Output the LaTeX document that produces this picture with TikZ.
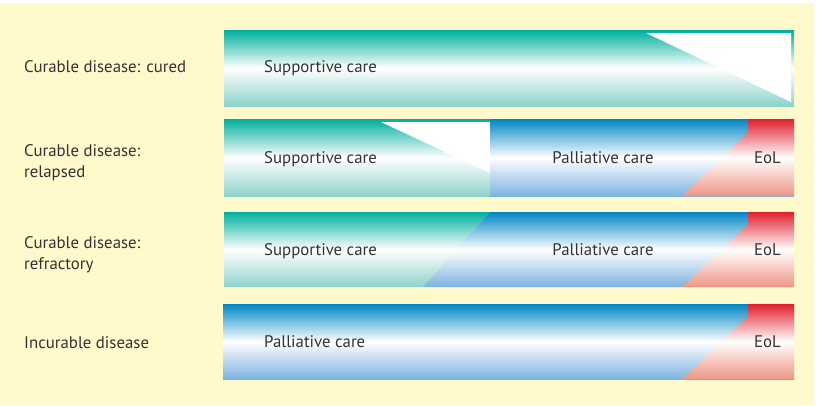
\documentclass[tikz,border=0pt]{standalone}
\usepackage{fontspec}
\setmainfont{PT Sans}
\definecolor{bg}{HTML}{FFF9CC}
\definecolor{tealT}{HTML}{00B09E}
\definecolor{tealB}{HTML}{8DD3CB}
\definecolor{blueT}{HTML}{0085C6}
\definecolor{blueB}{HTML}{7DB3DF}
\definecolor{redT}{HTML}{E0202E}
\definecolor{redB}{HTML}{EE9585}
\definecolor{txt}{HTML}{333333}
\begin{document}
\begin{tikzpicture}[x=1pt,y=-1pt,
  tealsh/.style={top color=tealT, bottom color=tealB, middle color=white},
  bluesh/.style={top color=blueT, bottom color=blueB, middle color=white},
  redsh/.style={top color=redT, bottom color=redB, middle color=white},
  lab/.style={inner sep=0pt, text=txt, font=\fontsize{16.8}{21}\selectfont, align=left}]
\useasboundingbox (0,0) rectangle (817,405);
\fill[bg] (0,3) rectangle (814,405);
% bar 1
\shade[tealsh] (224,30) rectangle (794,106);
\fill[white] (646,33) -- (791,33) -- (791,102) -- cycle;
% bar 2
\shade[tealsh] (224,119) rectangle (490,196);
\fill[white] (381,122) -- (490,122) -- (490,173) -- cycle;
\shade[bluesh] (490,119) rectangle (794,196);
\shade[redsh] (748,119) -- (794,119) -- (794,196) -- (682,196) -- (748,132) -- cycle;
% bar 3
\shade[tealsh] (224,212) -- (490,212) -- (423,287) -- (224,287) -- cycle;
\shade[bluesh] (490,212) -- (794,212) -- (794,287) -- (423,287) -- cycle;
\shade[redsh] (748,212) -- (794,212) -- (794,287) -- (682,287) -- (748,224) -- cycle;
% bar 4
\shade[bluesh] (223,304) rectangle (794,379);
\shade[redsh] (748,304) -- (794,304) -- (794,379) -- (682,379) -- (748,316) -- cycle;
% row labels
\node[lab, anchor=base west] (l1) at (24,72.5) {Curable disease: cured};
\node[lab, anchor=base west] (l2) at (24,177) {Curable disease:\\relapsed};
\node[lab, anchor=base west] (l3) at (24,269) {Curable disease:\\refractory};
\node[lab, anchor=base west] (l4) at (24,348) {Incurable disease};
% bar texts
\node[lab, anchor=base west] (s1) at (264,72.5) {Supportive care};
\node[lab, anchor=base west] (s2) at (264,163.5) {Supportive care};
\node[lab, anchor=base west] (s3) at (264,255.5) {Supportive care};
\node[lab, anchor=base] (p2) at (603,163.5) {Palliative care};
\node[lab, anchor=base] (p3) at (603,255.5) {Palliative care};
\node[lab, anchor=base west] (p4) at (264,347.5) {Palliative care};
\node[lab, anchor=base east] (e2) at (781,163.5) {EoL};
\node[lab, anchor=base east] (e3) at (781,255.5) {EoL};
\node[lab, anchor=base east] (e4) at (781,347.5) {EoL};
\end{tikzpicture}
\end{document}
